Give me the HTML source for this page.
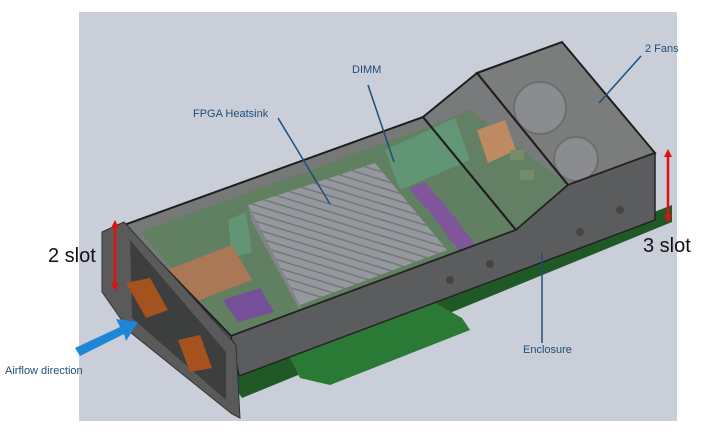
<!DOCTYPE html>
<html><head><meta charset="utf-8"><style>
html,body{margin:0;padding:0;background:#fff;}
svg{display:block}
text{font-family:"Liberation Sans",sans-serif;}
</style></head><body>
<svg width="701" height="447" viewBox="0 0 701 447" xmlns="http://www.w3.org/2000/svg">
<defs>
<clipPath id="hs"><polygon points="248,205 375,163 447,250 300,305"/></clipPath>
</defs>
<rect x="0" y="0" width="701" height="447" fill="#fff"/>
<rect x="79" y="12" width="598" height="409" fill="#c9ced8"/>
<polygon points="230,380 672,205 672,222 242,398" fill="#1f5a26"/>
<polygon points="286,350 430,300 462,318 470,330 330,385 300,378" fill="#2a7a35"/>
<polygon points="124,225 423,117 477,73 562,42 655,153 655,220 239,376 232,345" fill="#6f7170"/>
<polygon points="140,232 420,130 470,110 568,185 516,232 231,336" fill="#4f7a4e"/>
<polygon points="385,150 455,118 470,160 400,190" fill="#4f9a6a"/>
<polygon points="228,220 246,212 252,252 232,258" fill="#4f9a6a"/>
<polygon points="248,205 375,163 447,250 300,305" fill="#9a9ea2"/>
<g stroke="#6b6f73" stroke-width="1.5" clip-path="url(#hs)">
<line x1="180" y1="94" x2="500" y2="192"/>
<line x1="180" y1="102" x2="500" y2="200"/>
<line x1="180" y1="110" x2="500" y2="208"/>
<line x1="180" y1="118" x2="500" y2="216"/>
<line x1="180" y1="126" x2="500" y2="224"/>
<line x1="180" y1="134" x2="500" y2="232"/>
<line x1="180" y1="142" x2="500" y2="240"/>
<line x1="180" y1="150" x2="500" y2="248"/>
<line x1="180" y1="158" x2="500" y2="256"/>
<line x1="180" y1="166" x2="500" y2="264"/>
<line x1="180" y1="174" x2="500" y2="272"/>
<line x1="180" y1="182" x2="500" y2="280"/>
<line x1="180" y1="190" x2="500" y2="288"/>
<line x1="180" y1="198" x2="500" y2="296"/>
<line x1="180" y1="206" x2="500" y2="304"/>
<line x1="180" y1="214" x2="500" y2="312"/>
<line x1="180" y1="222" x2="500" y2="320"/>
<line x1="180" y1="230" x2="500" y2="328"/>
<line x1="180" y1="238" x2="500" y2="336"/>
<line x1="180" y1="246" x2="500" y2="344"/>
<line x1="180" y1="254" x2="500" y2="352"/>
</g>
<polygon points="248,205 300,305 304,318 252,222" fill="#7e8286"/>
<polygon points="409,188 425,182 440,200 424,207" fill="#7a3fa0"/>
<polygon points="424,204 440,198 455,218 439,225" fill="#7a3fa0"/>
<polygon points="438,222 454,216 468,236 452,243" fill="#7a3fa0"/>
<polygon points="452,240 468,234 481,254 465,261" fill="#7a3fa0"/>
<polygon points="223,300 260,288 274,312 238,322" fill="#6e35a0"/>
<polygon points="167,270 232,245 252,280 186,305" fill="#b8703e"/>
<polygon points="477,130 505,120 516,150 488,163" fill="#d9894a"/>
<circle cx="540" cy="108" r="26" fill="#8a8c90" stroke="#555" stroke-width="2"/>
<circle cx="576" cy="159" r="22" fill="#8a8c90" stroke="#555" stroke-width="2"/>
<rect x="510" y="150" width="14" height="10" fill="#6d8a58"/>
<rect x="520" y="170" width="14" height="10" fill="#6d8a58"/>
<polygon points="124,225 423,117 516,230 231,336" fill="#8a8c8e" fill-opacity="0.3" stroke="#1e1e1e" stroke-width="2"/>
<polygon points="423,117 477,73 568,185 516,230" fill="#8a8c8e" fill-opacity="0.35" stroke="#1e1e1e" stroke-width="2"/>
<polygon points="477,73 562,42 655,153 568,185" fill="#8a8c8e" fill-opacity="0.45" stroke="#1e1e1e" stroke-width="2"/>
<polygon points="231,336 516,230 568,185 655,153 655,220 239,376" fill="#5b5c5d" stroke="#222" stroke-width="1.5"/>
<circle cx="450" cy="280" r="4" fill="#444"/><circle cx="490" cy="264" r="4" fill="#444"/>
<circle cx="580" cy="232" r="4" fill="#444"/><circle cx="620" cy="210" r="4" fill="#444"/>
<polygon points="102,232 124,222 236,345 240,418 232,414 130,332 102,292" fill="#5a5a5a" stroke="#333"/>
<polygon points="130,240 226,352 226,400 132,318" fill="#3d3f3e"/>
<polygon points="126,283 150,278 168,310 146,318" fill="#a5521e"/>
<polygon points="178,340 200,335 212,368 190,372" fill="#a5521e"/>
<g stroke="#1f4e79" stroke-width="1.5" fill="none">
<line x1="368" y1="85" x2="394" y2="162"/>
<line x1="278" y1="118" x2="330" y2="204"/>
<line x1="641" y1="56" x2="599" y2="103"/>
<line x1="542" y1="343" x2="542" y2="253"/>
</g>
<g stroke="#e01010" stroke-width="2.5">
<line x1="115" y1="226" x2="115" y2="285"/>
<line x1="668" y1="155" x2="668" y2="218"/>
</g>
<polygon points="115,220 111,228 119,228" fill="#e01010"/>
<polygon points="115,291 111,283 119,283" fill="#e01010"/>
<polygon points="668,149 664,157 672,157" fill="#e01010"/>
<polygon points="668,223 664,215 672,215" fill="#e01010"/>
<polygon points="75,348 120,327 116,319 138,322 126,341 124,334 80,356" fill="#1e86d6"/>
<text x="352" y="73" font-size="11" fill="#1f4e79">DIMM</text>
<text x="193" y="117" font-size="11" fill="#1f4e79">FPGA Heatsink</text>
<text x="645" y="52" font-size="11" fill="#1f4e79">2 Fans</text>
<text x="523" y="353" font-size="11" fill="#1f4e79">Enclosure</text>
<text x="5" y="374" font-size="11" fill="#1f4e79">Airflow direction</text>
<text x="48" y="262" font-size="20" fill="#111">2 slot</text>
<text x="643" y="252" font-size="20" fill="#111">3 slot</text>
</svg>
</body></html>
